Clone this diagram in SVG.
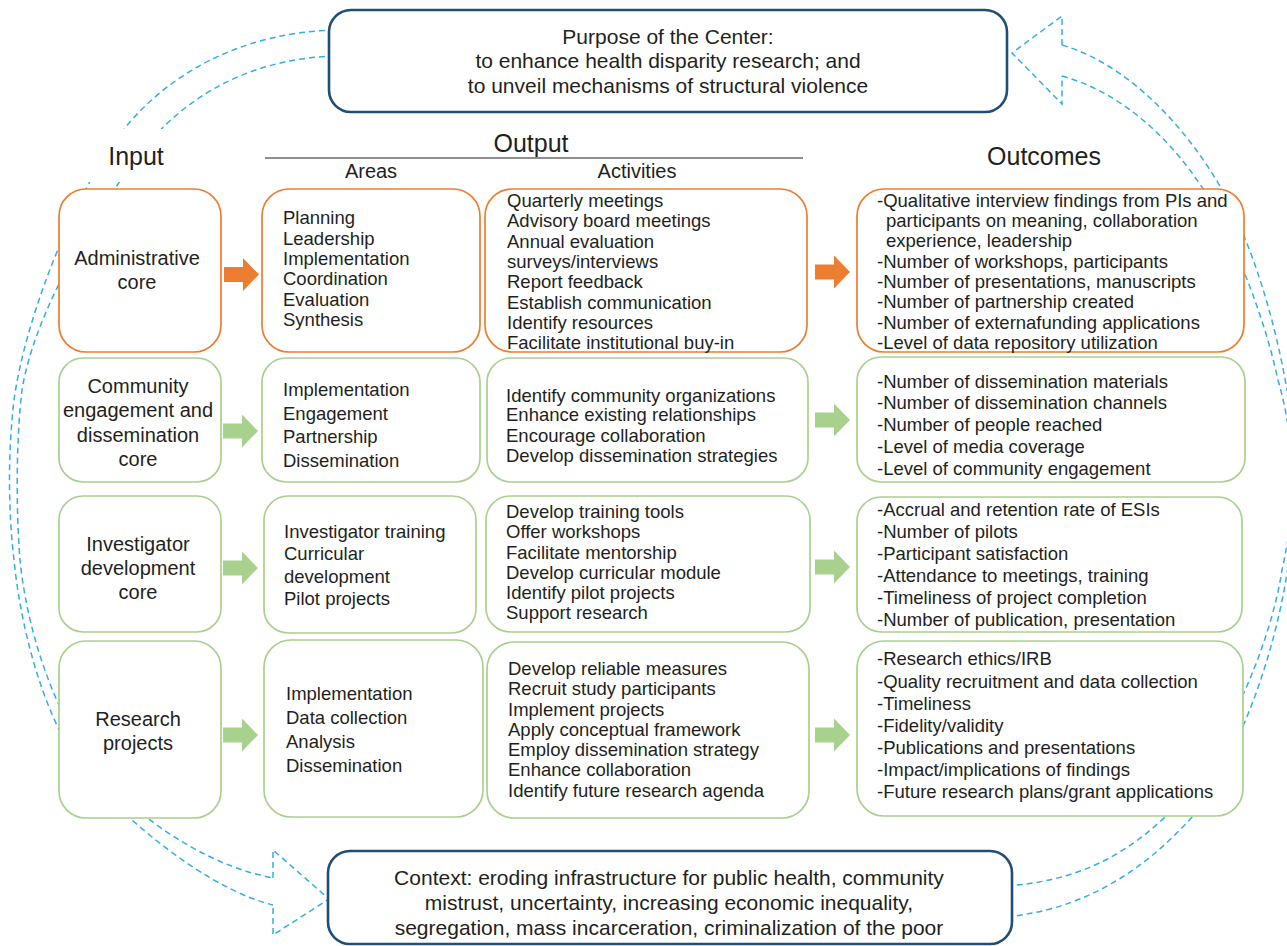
<svg xmlns="http://www.w3.org/2000/svg" width="1287" height="946" viewBox="0 0 1287 946">
<defs>
<style>
text{font-family:"Liberation Sans",Arial,sans-serif;fill:#231f20}
.bx{fill:#fff;stroke-width:1.7}
.or{stroke:#ed7d31}
.gr{stroke:#a9d18e}
.nv{fill:#fff;stroke:#1f4e79;stroke-width:2.6}
.t{font-size:18.5px}
.ti{font-size:20px;text-anchor:middle}
.h{font-size:25px;text-anchor:middle}
.sh{font-size:20px;text-anchor:middle}
.big{font-size:21px;text-anchor:middle}
.dash{fill:none;stroke:#35ade5;stroke-width:1.5;stroke-dasharray:6 4}
.ao{fill:#ed7d31}
.ag{fill:#a9d18e}
</style>
<path id="blk" d="M0,-7.5H19V-16.5L35,0L19,16.5V7.5H0Z"/>
</defs>
<rect width="1287" height="946" fill="#fff"/>

<g id="connectors">
<path class="dash" d="M335,30 C225,33 150,88 110,148 C70,208 25,320 14,400 C8,450 8,510 14,560 C22,640 50,740 100,790 C155,845 220,892 273,905"/>
<path class="dash" d="M335,56 C240,59 175,105 135,160 C95,215 35,310 22,390 C16,440 16,510 20,560 C28,640 60,730 110,785 C160,835 220,868 273,878"/>
<path class="dash" d="M273,878 V850 L329,899 L273,935 V905"/>
<path class="dash" d="M1062,45 C1140,68 1205,150 1235,215 C1262,275 1280,340 1292,420 C1300,480 1295,530 1285,585 C1270,670 1235,760 1193,816 C1140,875 1080,910 1005,917"/>
<path class="dash" d="M1062,76 C1130,95 1180,150 1210,200 C1240,255 1265,320 1278,380 C1295,440 1298,500 1282,570 C1270,650 1220,760 1165,817 C1120,860 1070,882 1005,886"/>
<path class="dash" d="M1062,45 V16 L1012,53 L1062,104 V76"/>
<use href="#blk" class="ao" transform="translate(224,274.5)"/>
<use href="#blk" class="ao" transform="translate(815,272)"/>
<use href="#blk" class="ag" transform="translate(223,431)"/>
<use href="#blk" class="ag" transform="translate(815,420)"/>
<use href="#blk" class="ag" transform="translate(223,568)"/>
<use href="#blk" class="ag" transform="translate(815,567)"/>
<use href="#blk" class="ag" transform="translate(223,735)"/>
<use href="#blk" class="ag" transform="translate(815,735)"/>
</g>

<g id="headers">
<rect x="80" y="129" width="96" height="53" fill="#fff"/>
<text class="h" x="136" y="165">Input</text>
<text class="h" x="531" y="152">Output</text>
<line x1="265" y1="158" x2="803" y2="158" stroke="#231f20" stroke-width="1.2"/>
<text class="sh" x="371" y="178">Areas</text>
<text class="sh" x="637" y="178">Activities</text>
<text class="h" x="1044" y="165">Outcomes</text>
</g>

<g id="purpose">
<rect class="nv" x="329" y="10" width="678" height="102" rx="22"/>
<text class="big" x="668" y="44">Purpose of the Center:</text>
<text class="big" x="668" y="68">to enhance health disparity research; and</text>
<text class="big" x="668" y="93">to unveil mechanisms of structural violence</text>
</g>

<g id="context">
<rect class="nv" x="328" y="851" width="684" height="93" rx="22"/>
<text class="big" x="669" y="885">Context: eroding infrastructure for public health, community</text>
<text class="big" x="669" y="910">mistrust, uncertainty, increasing economic inequality,</text>
<text class="big" x="669" y="935">segregation, mass incarceration, criminalization of the poor</text>
</g>

<g id="input-admin">
<rect class="bx or" x="59" y="189" width="162" height="163" rx="27"/>
<text class="ti" x="137" y="265">Administrative</text>
<text class="ti" x="137" y="289">core</text>
</g>
<g id="areas-admin">
<rect class="bx or" x="262" y="189" width="218" height="163" rx="27"/>
<text class="t" x="283" y="224">Planning</text>
<text class="t" x="283" y="245">Leadership</text>
<text class="t" x="283" y="265">Implementation</text>
<text class="t" x="283" y="285">Coordination</text>
<text class="t" x="283" y="306">Evaluation</text>
<text class="t" x="283" y="326">Synthesis</text>
</g>
<g id="activities-admin">
<rect class="bx or" x="485" y="189" width="322" height="163" rx="27"/>
<text class="t" x="507" y="207">Quarterly meetings</text>
<text class="t" x="507" y="227">Advisory board meetings</text>
<text class="t" x="507" y="248">Annual evaluation</text>
<text class="t" x="507" y="268">surveys/interviews</text>
<text class="t" x="507" y="288">Report feedback</text>
<text class="t" x="507" y="309">Establish communication</text>
<text class="t" x="507" y="329">Identify resources</text>
<text class="t" x="507" y="349">Facilitate institutional buy-in</text>
</g>
<g id="outcomes-admin">
<rect class="bx or" x="857" y="189" width="387" height="163" rx="27"/>
<text class="t" x="877" y="207">-Qualitative interview findings from PIs and</text>
<text class="t" x="886" y="227">participants on meaning, collaboration</text>
<text class="t" x="886" y="247">experience, leadership</text>
<text class="t" x="877" y="268">-Number of workshops, participants</text>
<text class="t" x="877" y="288">-Number of presentations, manuscripts</text>
<text class="t" x="877" y="308">-Number of partnership created</text>
<text class="t" x="877" y="329">-Number of externafunding applications</text>
<text class="t" x="877" y="349">-Level of data repository utilization</text>
</g>

<g id="input-community">
<rect class="bx gr" x="59" y="358" width="162" height="124" rx="24"/>
<text class="ti" x="138" y="393">Community</text>
<text class="ti" x="138" y="417">engagement and</text>
<text class="ti" x="138" y="442">dissemination</text>
<text class="ti" x="138" y="466">core</text>
</g>
<g id="areas-community">
<rect class="bx gr" x="262" y="358" width="218" height="124" rx="24"/>
<text class="t" x="283" y="396">Implementation</text>
<text class="t" x="283" y="420">Engagement</text>
<text class="t" x="283" y="443">Partnership</text>
<text class="t" x="283" y="467">Dissemination</text>
</g>
<g id="activities-community">
<rect class="bx gr" x="487" y="358" width="321" height="124" rx="24"/>
<text class="t" x="506" y="402">Identify community organizations</text>
<text class="t" x="506" y="421">Enhance existing relationships</text>
<text class="t" x="506" y="442">Encourage collaboration</text>
<text class="t" x="506" y="462">Develop dissemination strategies</text>
</g>
<g id="outcomes-community">
<rect class="bx gr" x="857" y="357" width="388" height="125" rx="24"/>
<text class="t" x="877" y="388">-Number of dissemination materials</text>
<text class="t" x="877" y="409">-Number of dissemination channels</text>
<text class="t" x="877" y="431">-Number of people reached</text>
<text class="t" x="877" y="453">-Level of media coverage</text>
<text class="t" x="877" y="475">-Level of community engagement</text>
</g>

<g id="input-investigator">
<rect class="bx gr" x="59" y="496" width="162" height="136" rx="24"/>
<text class="ti" x="138" y="551">Investigator</text>
<text class="ti" x="138" y="575">development</text>
<text class="ti" x="138" y="599">core</text>
</g>
<g id="areas-investigator">
<rect class="bx gr" x="264" y="496" width="212" height="137" rx="24"/>
<text class="t" x="284" y="538">Investigator training</text>
<text class="t" x="284" y="560">Curricular</text>
<text class="t" x="284" y="583">development</text>
<text class="t" x="284" y="605">Pilot projects</text>
</g>
<g id="activities-investigator">
<rect class="bx gr" x="486" y="496" width="324" height="136" rx="24"/>
<text class="t" x="506" y="518">Develop training tools</text>
<text class="t" x="506" y="538">Offer workshops</text>
<text class="t" x="506" y="559">Facilitate mentorship</text>
<text class="t" x="506" y="579">Develop curricular module</text>
<text class="t" x="506" y="599">Identify pilot projects</text>
<text class="t" x="506" y="619">Support research</text>
</g>
<g id="outcomes-investigator">
<rect class="bx gr" x="857" y="497" width="385" height="135" rx="24"/>
<text class="t" x="877" y="516">-Accrual and retention rate of ESIs</text>
<text class="t" x="877" y="538">-Number of pilots</text>
<text class="t" x="877" y="560">-Participant satisfaction</text>
<text class="t" x="877" y="582">-Attendance to meetings, training</text>
<text class="t" x="877" y="604">-Timeliness of project completion</text>
<text class="t" x="877" y="626">-Number of publication, presentation</text>
</g>

<g id="input-research">
<rect class="bx gr" x="59" y="641" width="162" height="177" rx="27"/>
<text class="ti" x="138" y="726">Research</text>
<text class="ti" x="138" y="750">projects</text>
</g>
<g id="areas-research">
<rect class="bx gr" x="264" y="640" width="219" height="177" rx="27"/>
<text class="t" x="286" y="700">Implementation</text>
<text class="t" x="286" y="724">Data collection</text>
<text class="t" x="286" y="748">Analysis</text>
<text class="t" x="286" y="772">Dissemination</text>
</g>
<g id="activities-research">
<rect class="bx gr" x="487" y="642" width="322" height="176" rx="27"/>
<text class="t" x="508" y="675">Develop reliable measures</text>
<text class="t" x="508" y="695">Recruit study participants</text>
<text class="t" x="508" y="716">Implement projects</text>
<text class="t" x="508" y="736">Apply conceptual framework</text>
<text class="t" x="508" y="756">Employ dissemination strategy</text>
<text class="t" x="508" y="776">Enhance collaboration</text>
<text class="t" x="508" y="797">Identify future research agenda</text>
</g>
<g id="outcomes-research">
<rect class="bx gr" x="857" y="641" width="386" height="175" rx="27"/>
<text class="t" x="877" y="665">-Research ethics/IRB</text>
<text class="t" x="877" y="688">-Quality recruitment and data collection</text>
<text class="t" x="877" y="710">-Timeliness</text>
<text class="t" x="877" y="732">-Fidelity/validity</text>
<text class="t" x="877" y="754">-Publications and presentations</text>
<text class="t" x="877" y="776">-Impact/implications of findings</text>
<text class="t" x="877" y="798">-Future research plans/grant applications</text>
</g>
</svg>
